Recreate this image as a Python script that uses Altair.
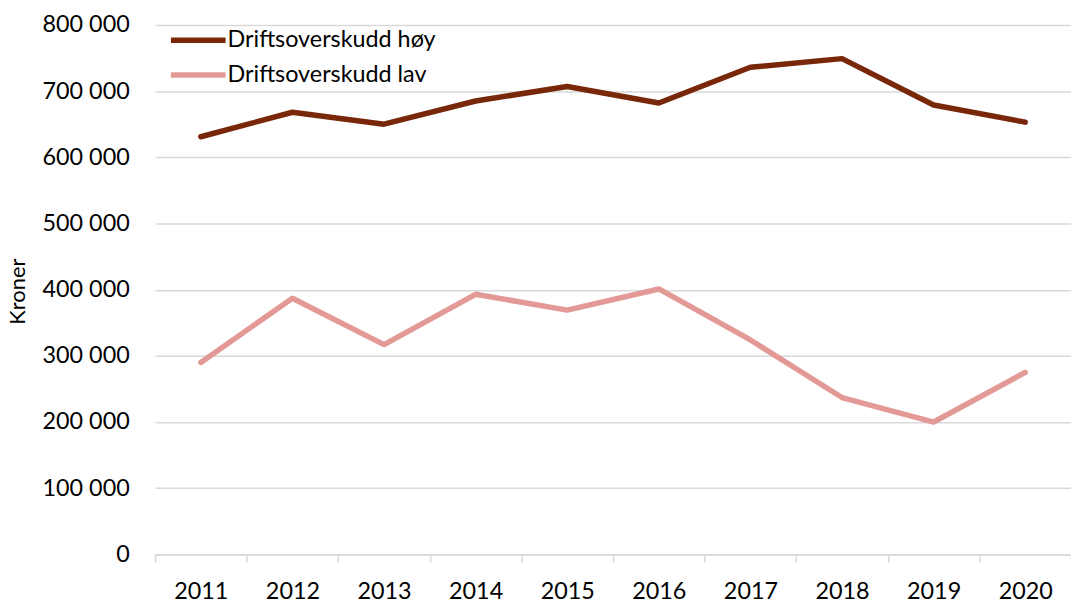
import altair as alt
import pandas as pd

years = ["2011", "2012", "2013", "2014", "2015", "2016", "2017", "2018", "2019", "2020"]
hoy = [631000, 668000, 650000, 685000, 707000, 682000, 736000, 749000, 679000, 653000]
lav = [290000, 387000, 317000, 393000, 369000, 401000, 324000, 237000, 200000, 275000]
series = ["Driftsoverskudd høy", "Driftsoverskudd lav"]
colors = ["#782709", "#E39A96"]

rows = []
for y, v in zip(years, hoy):
    rows.append({"year": y, "value": v, "series": series[0]})
for y, v in zip(years, lav):
    rows.append({"year": y, "value": v, "series": series[1]})
df = pd.DataFrame(rows)

FONT = "Lato"

chart = alt.Chart(df).mark_line(strokeWidth=5.5, strokeCap="round", strokeJoin="round").encode(
    x=alt.X("year:O", title=None, bandPosition=0.5,
            scale=alt.Scale(type="band", paddingInner=0, paddingOuter=0),
            axis=alt.Axis(labelAngle=0, tickBand="extent", domainColor="#d9d9d9", domainWidth=1.5,
                          tickColor="#d9d9d9", tickWidth=1.5, tickSize=8, labelPadding=17,
                          labelFontSize=23.5, labelColor="#000000", labelFont=FONT, grid=False)),
    y=alt.Y("value:Q", title="Kroner",
            scale=alt.Scale(domain=[0, 800000], nice=False),
            axis=alt.Axis(values=list(range(0, 800001, 100000)), labelExpr="replace(format(datum.value, ',d'), /,/g, ' ')",
                          domain=False, ticks=False, tickSize=0, labelPadding=26,
                          labelFontSize=23.5, labelColor="#000000", labelFont=FONT,
                          gridColor="#d9d9d9", gridWidth=1.5,
                          titleFontSize=22, titleFontWeight="normal", titleColor="#000000", titleFont=FONT,
                          titleX=-126, titleY=268)),
    color=alt.Color("series:N", title=None,
                    scale=alt.Scale(domain=series, range=colors),
                    legend=alt.Legend(orient="none", legendX=27, legendY=-1, symbolType="M-2,0H2",
                                      symbolSize=756, symbolStrokeWidth=5.5, labelFontSize=23.5,
                                      labelFont=FONT, labelColor="#000000", rowPadding=7,
                                      labelOffset=13, symbolOffset=0, labelLimit=0)),
).properties(
    width=922, height=533,
    autosize=alt.AutoSizeParams(type="none"),
    padding={"left": 148, "top": 15, "right": 0, "bottom": 60},
).configure_view(stroke=None)

chart.save("out.html", embed_options={"renderer": "svg", "actions": False})
